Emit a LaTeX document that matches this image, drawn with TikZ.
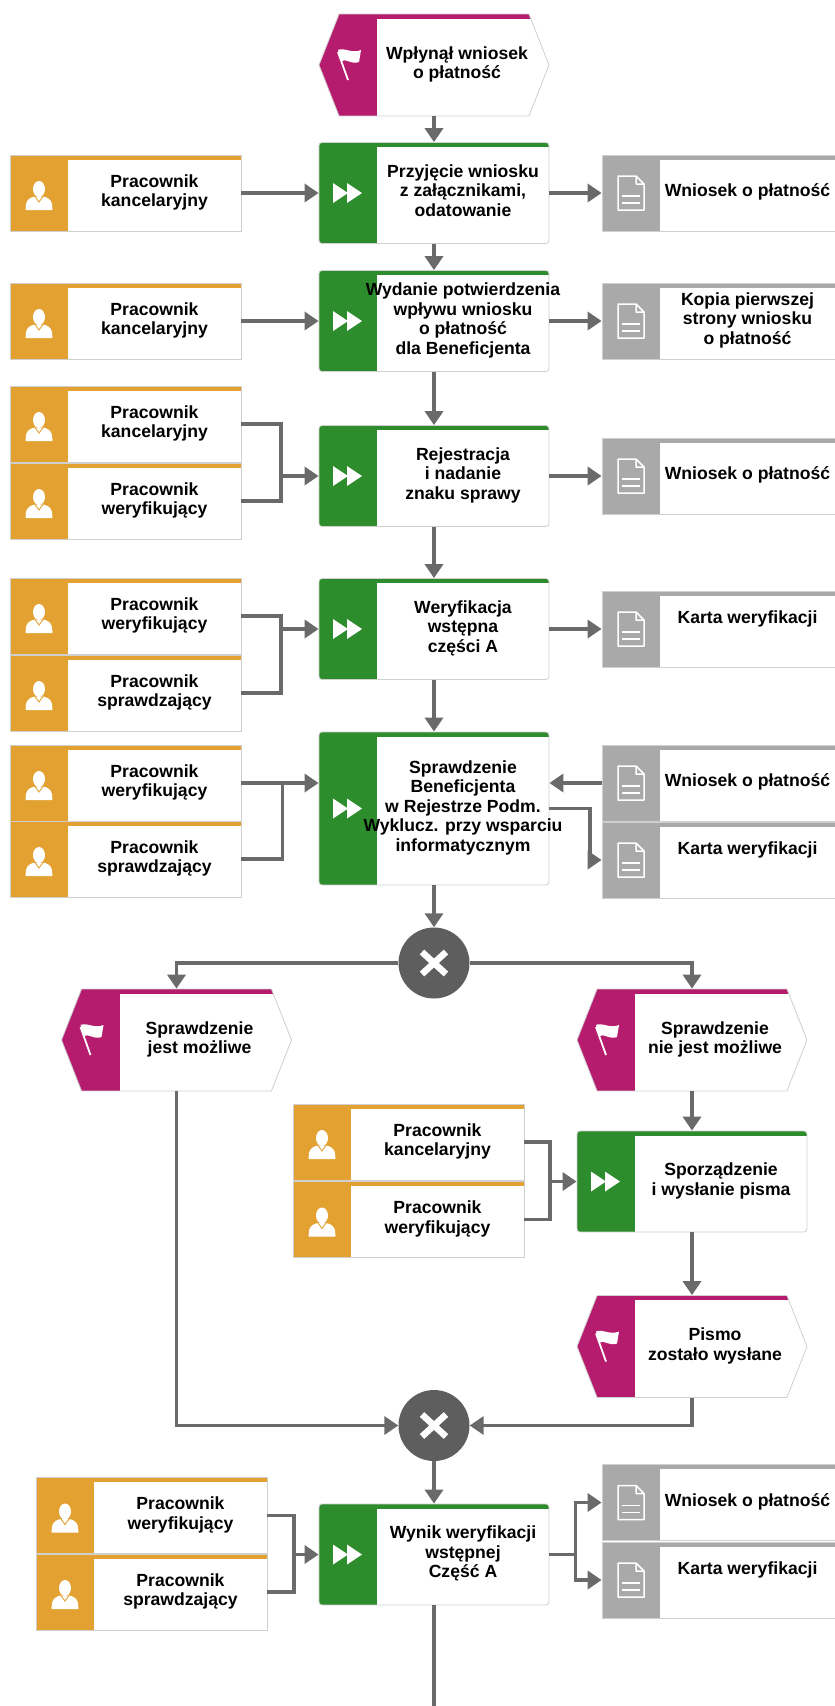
\documentclass[tikz,border=0pt]{standalone}
\usepackage{fontspec}
\setmainfont{Liberation Sans}
\usetikzlibrary{arrows.meta, shapes.symbols}

\definecolor{evcol}{HTML}{B61C6E}
\definecolor{fncol}{HTML}{2D8C2B}
\definecolor{orgcol}{HTML}{E2A131}
\definecolor{doccol}{HTML}{A9A9A9}
\definecolor{linecol}{HTML}{6A6A6A}
\definecolor{gatecol}{HTML}{5E5E5E}
\definecolor{boxline}{HTML}{CFCFCF}

% text centred in the white part of a box
\newcommand{\boxtext}[2][58pt]{\makebox[0pt]{\hspace{#1}\begin{tabular}{@{}c@{}}#2\end{tabular}}}
% coloured band on the left and stripe on top
\newcommand{\bandfill}[1]{%
  \fill[#1, sharp corners] (path picture bounding box.south west) rectangle ([xshift=58pt]path picture bounding box.north west);
  \fill[#1, sharp corners] ([yshift=-4.5pt]path picture bounding box.north west) rectangle (path picture bounding box.north east);}

\tikzset{
  person/.pic={
    \fill[white, sharp corners] (0pt,4pt) ellipse (6pt and 8pt);
    \fill[white, sharp corners] (-13.5,-17) -- (-13,-11) .. controls (-12,-6) and (-8,-4) .. (-3.5,-3.5)
        -- (3.5,-3.5) .. controls (8,-4) and (12,-6) .. (13,-11) -- (13.5,-17) -- cycle;
    \draw[orgcol, line width=0.9pt, sharp corners] (-4,-3.5) -- (0,-9) -- (4,-3.5);
  },
  docicon/.pic={
    \draw[white, line width=1.5pt, line join=round, sharp corners]
        (-13,17) -- (5,17) -- (13,9) -- (13,-17) -- (-13,-17) -- cycle
        (5,17) -- (5,9) -- (13,9);
    \draw[white, line width=1.5pt] (-9,-3) -- (9,-3) (-9,-10) -- (9,-10);
  },
  ffwd/.pic={
    \fill[white, sharp corners] (-15,10) -- (0,0) -- (-15,-10) -- cycle;
    \fill[white, sharp corners] (-1,10) -- (14,0) -- (-1,-10) -- cycle;
  },
  flag/.pic={
    \draw[white, line width=1.8pt] (-10,13) -- (0,-15);
    \fill[white, sharp corners] (-10,15) .. controls (-4,18) and (4,11) .. (13,15) -- (11,3)
        .. controls (3,0) and (-2,7) .. (-6.5,4) -- cycle;
  }
}

\begin{document}
\begin{tikzpicture}[x=1pt, y=1pt,
    font=\fontsize{17.6}{19.5}\selectfont\bfseries,
    box/.style={rectangle, draw=boxline, line width=0.8pt, fill=white, inner sep=0pt,
        minimum width=231pt, minimum height=76pt},
    orgbox/.style={box, path picture={\bandfill{orgcol}
        \pic at ([xshift=29pt]path picture bounding box.west) {person};}},
    docbox/.style={box, minimum width=233pt, path picture={\bandfill{doccol}
        \pic at ([xshift=29pt]path picture bounding box.west) {docicon};}},
    funcbox/.style={box, minimum width=230pt, minimum height=101pt, rounded corners=3pt,
        path picture={\bandfill{fncol}
        \pic at ([xshift=29pt]path picture bounding box.west) {ffwd};}},
    eventbox/.style={signal, signal to=west and east, signal pointer angle=137,
        draw=boxline, line width=0.8pt, fill=white, inner sep=0pt,
        minimum width=230pt, minimum height=102pt,
        path picture={\bandfill{evcol}
        \pic at ([xshift=29pt]path picture bounding box.west) {flag};}},
    gate/.style={circle, fill=gatecol, minimum size=71pt, inner sep=0pt,
        path picture={\draw[white, line width=6.5pt]
          ([shift={(-12pt,-11pt)}]path picture bounding box.center) -- ([shift={(12pt,11pt)}]path picture bounding box.center)
          ([shift={(-12pt,11pt)}]path picture bounding box.center) -- ([shift={(12pt,-11pt)}]path picture bounding box.center);}},
    wire/.style={draw=linecol, line width=3.8pt},
    flowarrow/.style={wire, -{Triangle[length=14pt, width=18pt]}}
]
    \path[use as bounding box, fill=white] (0,0) rectangle (835,-1706);

    % start event
    \node[eventbox] (ev1) at (434,-65) {\boxtext[46pt]{Wpłynął wniosek\\o płatność}};

    % row 1
    \node[funcbox] (f1) at (434,-193) {\boxtext{Przyjęcie wniosku\\z załącznikami,\\odatowanie}};
    \node[orgbox] (o1) at (125.5,-193) {\boxtext{Pracownik\\kancelaryjny}};
    \node[docbox] (d1) at (718.5,-193) {\boxtext{Wniosek o płatność}};

    % row 2
    \node[funcbox] (f2) at (434,-321) {\boxtext{Wydanie potwierdzenia\\wpływu wniosku\\o płatność\\dla Beneficjenta}};
    \node[orgbox] (o2) at (125.5,-321) {\boxtext{Pracownik\\kancelaryjny}};
    \node[docbox] (d2) at (718.5,-321) {\boxtext{Kopia pierwszej\\strony wniosku\\o płatność}};

    % row 3
    \node[funcbox] (f3) at (434,-476) {\boxtext{Rejestracja\\i nadanie\\znaku sprawy}};
    \node[orgbox] (o3a) at (125.5,-424) {\boxtext{Pracownik\\kancelaryjny}};
    \node[orgbox] (o3b) at (125.5,-501) {\boxtext{Pracownik\\weryfikujący}};
    \node[docbox] (d3) at (718.5,-476) {\boxtext{Wniosek o płatność}};

    % row 4
    \node[funcbox] (f4) at (434,-629) {\boxtext{Weryfikacja\\wstępna\\części A}};
    \node[orgbox] (o4a) at (125.5,-616) {\boxtext{Pracownik\\weryfikujący}};
    \node[orgbox] (o4b) at (125.5,-693) {\boxtext{Pracownik\\sprawdzający}};
    \node[docbox] (d4) at (718.5,-629) {\boxtext{Karta weryfikacji\\ \mbox{}}};

    % row 5
    \node[funcbox, minimum height=153pt] (f5) at (434,-808.5)
        {\boxtext{Sprawdzenie\\Beneficjenta\\w Rejestrze Podm.\\Wyklucz. przy wsparciu\\informatycznym}};
    \node[orgbox] (o5a) at (125.5,-783) {\boxtext{Pracownik\\weryfikujący}};
    \node[orgbox] (o5b) at (125.5,-859) {\boxtext{Pracownik\\sprawdzający}};
    \node[docbox] (d5a) at (718.5,-783) {\boxtext{Wniosek o płatność}};
    \node[docbox] (d5b) at (718.5,-860) {\boxtext{Karta weryfikacji\\ \mbox{}}};

    % split
    \node[gate] (g1) at (434,-963) {};
    \node[eventbox] (evL) at (176.5,-1040) {\boxtext[46pt]{Sprawdzenie\\jest możliwe}};
    \node[eventbox] (evR) at (692,-1040) {\boxtext[46pt]{Sprawdzenie\\nie jest możliwe}};

    % letter branch
    \node[funcbox] (f6) at (692,-1181.5) {\boxtext{Sporządzenie\\i wysłanie pisma}};
    \node[orgbox] (o6a) at (408.5,-1142) {\boxtext{Pracownik\\kancelaryjny}};
    \node[orgbox] (o6b) at (408.5,-1219.5) {\boxtext{Pracownik\\weryfikujący}};
    \node[eventbox] (evP) at (692,-1346.5) {\boxtext[46pt]{Pismo\\zostało wysłane}};

    % join and result
    \node[gate] (g2) at (434,-1425.5) {};
    \node[funcbox] (f7) at (434,-1554.5) {\boxtext{Wynik weryfikacji\\wstępnej\\Część A}};
    \node[orgbox] (o7a) at (151.5,-1515.5) {\boxtext{Pracownik\\weryfikujący}};
    \node[orgbox] (o7b) at (151.5,-1592) {\boxtext{Pracownik\\sprawdzający}};
    \node[docbox] (d7a) at (718.5,-1502.5) {\boxtext{Wniosek o płatność}};
    \node[docbox] (d7b) at (718.5,-1580) {\boxtext{Karta weryfikacji\\ \mbox{}}};

    % join points
    \coordinate (j3) at ([xshift=-38pt]f3.west);
    \coordinate (j4) at ([xshift=-38pt]f4.west);
    \coordinate (j5) at ([xshift=41pt]o5a.east);
    \coordinate (k5) at ([xshift=-12pt]d5b.west);
    \coordinate (j6) at ([xshift=-27pt]f6.west);
    \coordinate (j7) at ([xshift=-25pt]f7.west);
    \coordinate (k7) at ([xshift=26pt]f7.east);
    \coordinate (endp) at (434,-1706);

    % main flow
    \draw[flowarrow] (ev1.south) -- (f1.north);
    \draw[flowarrow] (f1.south) -- (f2.north);
    \draw[flowarrow] (f2.south) -- (f3.north);
    \draw[flowarrow] (f3.south) -- (f4.north);
    \draw[flowarrow] (f4.south) -- (f5.north);
    \draw[flowarrow] (f5.south) -- (g1.north);

    % people and documents
    \draw[flowarrow] (o1.east) -- (f1.west);
    \draw[flowarrow] (f1.east) -- (d1.west);
    \draw[flowarrow] (o2.east) -- (f2.west);
    \draw[flowarrow] (f2.east) -- (d2.west);
    \draw[wire] (o3a.east) -| (j3) |- (o3b.east);
    \draw[flowarrow] (j3) -- (f3.west);
    \draw[flowarrow] (f3.east) -- (d3.west);
    \draw[wire] (o4a.east) -| (j4) |- (o4b.east);
    \draw[flowarrow] (j4) -- (f4.west);
    \draw[flowarrow] (f4.east) -- (d4.west);
    \draw[flowarrow] (o5a.east) -- (o5a.east -| f5.west);
    \draw[wire] (o5b.east) -| (j5);
    \draw[flowarrow] (d5a.west) -- (d5a.west -| f5.east);
    \draw[flowarrow] (f5.east) -| (k5) -- (d5b.west);

    % branches
    \draw[flowarrow] (g1.west) -| (evL.north);
    \draw[flowarrow] (g1.east) -| (evR.north);
    \draw[flowarrow] (evR.south) -- (f6.north);
    \draw[wire] (o6a.east) -| (j6) |- (o6b.east);
    \draw[flowarrow] (j6) -- (f6.west);
    \draw[flowarrow] (f6.south) -- (evP.north);
    \draw[flowarrow] (evL.south) |- (g2.west);
    \draw[flowarrow] (evP.south) |- (g2.east);

    % result
    \draw[flowarrow] (g2.south) -- (f7.north);
    \draw[wire] (o7a.east) -| (j7) |- (o7b.east);
    \draw[flowarrow] (j7) -- (f7.west);
    \draw[wire] (f7.east) -- (k7);
    \draw[flowarrow] (k7) |- (d7a.west);
    \draw[flowarrow] (k7) |- (d7b.west);
    \draw[wire] (f7.south) -- (endp);
\end{tikzpicture}
\end{document}
